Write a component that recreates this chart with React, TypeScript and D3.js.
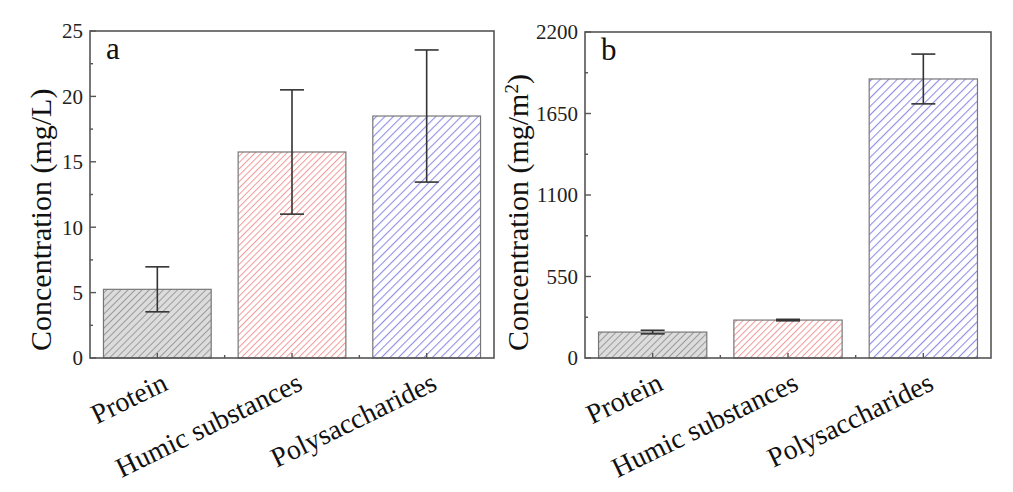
import React from 'react';
import * as d3 from 'd3';

const categories = ['Protein', 'Humic substances', 'Polysaccharides'];

// panel a: liquid phase concentration (mg/L)
const valuesA = [5.25, 15.75, 18.5];
const errorsA = [1.72, 4.75, 5.05];
const ticksA = [0, 5, 10, 15, 20, 25];

// panel b: surface concentration (mg/m2)
const valuesB = [175, 256, 1883];
const errorsB = [12, 5, 168];
const ticksB = [0, 550, 1100, 1650, 2200];

const fills = ['url(#hatchGrey)', 'url(#hatchRed)', 'url(#hatchBlue)'];
const font = '"Liberation Serif", "Times New Roman", serif';

type PanelProps = {
  values: number[];
  errors: number[];
  ticks: number[];
  left: number;
  right: number;
  top: number;
  bottom: number;
  letter: string;
  labelX: number;
  yLabel: React.ReactNode;
};

const Panel = ({ values, errors, ticks, left, right, top, bottom, letter, labelX, yLabel }: PanelProps) => {
  const x = d3.scaleBand<string>()
    .domain(categories)
    .range([left, right])
    .paddingInner(0.2)
    .paddingOuter(0.1);

  const maxY = ticks[ticks.length - 1];
  const y = d3.scaleLinear().domain([0, maxY]).range([bottom, top]);
  const step = ticks[1] - ticks[0];
  const minor = ticks.slice(0, -1).map((t) => t + step / 2);

  return (
    <g>
      {/* bars */}
      {categories.map((c, i) => (
        <rect
          key={c}
          x={x(c)}
          y={y(values[i])}
          width={x.bandwidth()}
          height={bottom - y(values[i])}
          fill={fills[i]}
          stroke="#777"
          strokeWidth={1.2}
        />
      ))}

      {/* error bars */}
      {categories.map((c, i) => {
        const cx = (x(c) ?? 0) + x.bandwidth() / 2;
        const hi = y(values[i] + errors[i]);
        const lo = y(values[i] - errors[i]);
        return (
          <g key={c} stroke="#333" strokeWidth={1.6}>
            <line x1={cx} x2={cx} y1={hi} y2={lo} />
            <line x1={cx - 12} x2={cx + 12} y1={hi} y2={hi} />
            <line x1={cx - 12} x2={cx + 12} y1={lo} y2={lo} />
          </g>
        );
      })}

      {/* frame */}
      <rect x={left} y={top} width={right - left} height={bottom - top} fill="none" stroke="#555" strokeWidth={1.6} />

      {/* y ticks */}
      {ticks.map((t) => (
        <g key={t}>
          <line x1={left} x2={left + 6} y1={y(t)} y2={y(t)} stroke="#555" strokeWidth={1.4} />
          <text x={left - 7} y={y(t)} dy="0.35em" textAnchor="end" fontSize={21} fontFamily={font} fill="#222">
            {t}
          </text>
        </g>
      ))}
      {minor.map((t) => (
        <line key={t} x1={left} x2={left + 3} y1={y(t)} y2={y(t)} stroke="#555" strokeWidth={1.4} />
      ))}

      {/* x ticks */}
      {categories.map((c, i) => {
        const cx = (x(c) ?? 0) + x.bandwidth() / 2;
        return (
          <g key={c}>
            <line x1={cx} x2={cx} y1={bottom} y2={bottom - 5} stroke="#555" strokeWidth={1.4} />
            {i > 0 && (
              <line
                x1={x(c)! - (x.step() - x.bandwidth()) / 2}
                x2={x(c)! - (x.step() - x.bandwidth()) / 2}
                y1={bottom}
                y2={bottom - 3}
                stroke="#555"
                strokeWidth={1.4}
              />
            )}
            <text
              transform={`translate(${cx + 12},${bottom + 31}) rotate(-26)`}
              textAnchor="end"
              fontSize={28}
              fontFamily={font}
              fill="#111"
            >
              {c}
            </text>
          </g>
        );
      })}

      {/* panel letter */}
      <text x={left + 16} y={top + 28} fontSize={31} fontFamily={font} fill="#111">
        {letter}
      </text>

      {/* y label */}
      <text
        transform={`translate(${labelX},${bottom - 7}) rotate(-90)`}
        textAnchor="start"
        fontSize={30}
        fontFamily={font}
        fill="#111"
      >
        {yLabel}
      </text>
    </g>
  );
};

const App = () => (
  <svg
    width={1013}
    height={492}
    style={{ position: 'absolute', left: 0, top: 0, background: '#fff' }}
  >
    <defs>
      <pattern id="hatchGrey" patternUnits="userSpaceOnUse" width={5} height={5} patternTransform="rotate(45)">
        <rect width={5} height={5} fill="#dcdcdc" />
        <line x1={0} y1={0} x2={0} y2={5} stroke="#8a8a8a" strokeWidth={1.6} />
      </pattern>
      <pattern id="hatchRed" patternUnits="userSpaceOnUse" width={4.5} height={4.5} patternTransform="rotate(45)">
        <rect width={4.5} height={4.5} fill="#fff" />
        <line x1={0} y1={0} x2={0} y2={4.5} stroke="#f29a9a" strokeWidth={2} />
      </pattern>
      <pattern id="hatchBlue" patternUnits="userSpaceOnUse" width={6} height={6} patternTransform="rotate(45)">
        <rect width={6} height={6} fill="#fff" />
        <line x1={0} y1={0} x2={0} y2={6} stroke="#8f8fe6" strokeWidth={2.2} />
      </pattern>
    </defs>

    <Panel
      values={valuesA}
      errors={errorsA}
      ticks={ticksA}
      left={90}
      right={494}
      top={31}
      bottom={358}
      letter="a"
      labelX={51}
      yLabel="Concentration (mg/L)"
    />
    <Panel
      values={valuesB}
      errors={errorsB}
      ticks={ticksB}
      left={585}
      right={991}
      top={32}
      bottom={358}
      letter="b"
      labelX={528}
      yLabel={
        <>
          Concentration (mg/m
          <tspan baselineShift="super" fontSize={19}>2</tspan>
          )
        </>
      }
    />
  </svg>
);

export default App;
